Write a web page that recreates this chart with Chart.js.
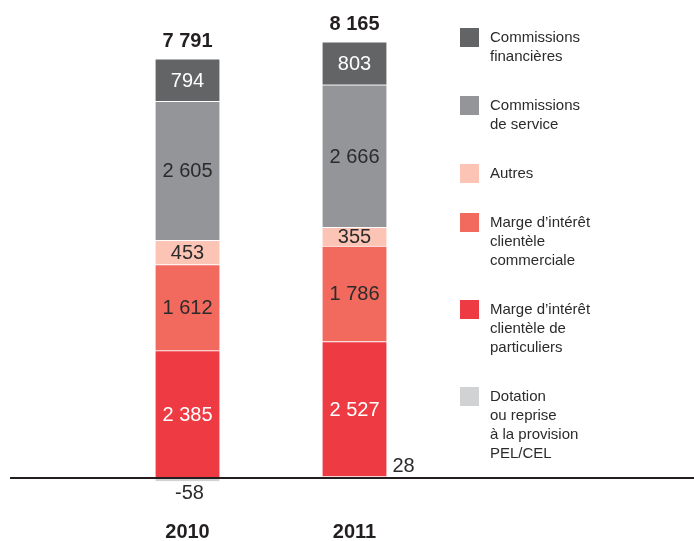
<!DOCTYPE html>
<html>
<head>
<meta charset="utf-8">
<script src="https://cdn.jsdelivr.net/npm/chart.js@4.4.0/dist/chart.umd.min.js"></script>
<style>
  html, body { margin: 0; padding: 0; background: #fff; }
</style>
</head>
<body>
<canvas id="chart" width="694" height="541"></canvas>
<script>
// data, stacked bottom-up
const years = ["2010", "2011"];
const pelCel = [-58, 28];
const margeParticuliers = [2385, 2527];
const margeCommerciale = [1612, 1786];
const autres = [453, 355];
const commissionsService = [2605, 2666];
const commissionsFinancieres = [794, 803];

const FONT = "'Liberation Sans', Arial, sans-serif";
const TEXT = "#2b2b2b";

function fmt(v) {
  const s = String(Math.abs(v)).replace(/\B(?=(\d{3})+(?!\d))/g, " ");
  return (v < 0 ? "-" : "") + s;
}

const datasets = [
  { label: ["Dotation", "ou reprise", "à la provision", "PEL/CEL"], data: pelCel, backgroundColor: "#d1d2d4", labelColor: TEXT, pel: true },
  { label: ["Marge d’intérêt", "clientèle de", "particuliers"], data: margeParticuliers, backgroundColor: "#ee3a43", labelColor: "#ffffff" },
  { label: ["Marge d’intérêt", "clientèle", "commerciale"], data: margeCommerciale, backgroundColor: "#f26a5e", labelColor: TEXT },
  { label: ["Autres"], data: autres, backgroundColor: "#fcc4b4", labelColor: TEXT },
  { label: ["Commissions", "de service"], data: commissionsService, backgroundColor: "#939598", labelColor: TEXT },
  { label: ["Commissions", "financières"], data: commissionsFinancieres, backgroundColor: "#636466", labelColor: "#ffffff" },
].map(d => Object.assign(d, {
  borderColor: "#ffffff",
  borderWidth: { top: 1, left: 0, right: 0, bottom: 0 },
  borderSkipped: false,
  barThickness: 64,
}));

const valueLabels = {
  id: "valueLabels",
  afterDatasetsDraw(chart) {
    const ctx = chart.ctx;
    const zeroY = chart.scales.y.getPixelForValue(0);
    ctx.save();
    ctx.font = "20px " + FONT;
    chart.data.datasets.forEach((ds, i) => {
      const meta = chart.getDatasetMeta(i);
      meta.data.forEach((bar, j) => {
        const v = ds.data[j];
        if (ds.pel) {
          ctx.fillStyle = TEXT;
          ctx.textBaseline = "middle";
          if (v < 0) {
            ctx.textAlign = "center";
            ctx.fillText(fmt(v), bar.x + 2, zeroY + 15);
          } else {
            ctx.textAlign = "left";
            ctx.fillText(fmt(v), bar.x + bar.width / 2 + 6, zeroY - 12);
          }
          return;
        }
        ctx.fillStyle = ds.labelColor;
        ctx.textAlign = "center";
        ctx.textBaseline = "middle";
        ctx.fillText(fmt(v), bar.x, (bar.y + bar.base) / 2 + 1);
      });
    });

    // zero line
    ctx.strokeStyle = "#231f20";
    ctx.lineWidth = 2;
    ctx.beginPath();
    ctx.moveTo(10, zeroY);
    ctx.lineTo(chart.width, zeroY);
    ctx.stroke();

    // totals on top
    ctx.font = "bold 20px " + FONT;
    ctx.fillStyle = "#231f20";
    ctx.textAlign = "center";
    ctx.textBaseline = "middle";
    chart.data.labels.forEach((lbl, j) => {
      let total = 0, pos = 0;
      chart.data.datasets.forEach(ds => {
        total += ds.data[j];
        if (ds.data[j] > 0) pos += ds.data[j];
      });
      const x = chart.getDatasetMeta(0).data[j].x;
      const top = chart.scales.y.getPixelForValue(pos);
      ctx.fillText(fmt(total), x, top - 17);
    });
    ctx.restore();
  }
};

const sideLegend = {
  id: "sideLegend",
  afterDraw(chart) {
    const ctx = chart.ctx;
    ctx.save();
    ctx.font = "15px " + FONT;
    ctx.textAlign = "left";
    ctx.textBaseline = "middle";
    let y = 28;
    chart.data.datasets.slice().reverse().forEach(ds => {
      ctx.fillStyle = ds.backgroundColor;
      ctx.fillRect(460, y, 19, 19);
      ctx.fillStyle = TEXT;
      ds.label.forEach((line, k) => {
        ctx.fillText(line, 490, y + 10 + k * 19);
      });
      y += ds.label.length * 19 + 30;
    });
    ctx.restore();
  }
};

new Chart(document.getElementById("chart"), {
  type: "bar",
  data: { labels: years, datasets: datasets },
  options: {
    responsive: false,
    animation: false,
    layout: { padding: { left: 104, right: 256, top: 8, bottom: -15 } },
    plugins: { legend: { display: false }, tooltip: { enabled: false } },
    scales: {
      x: {
        stacked: true,
        grid: { display: false, drawTicks: false },
        border: { display: false },
        ticks: { color: "#231f20", padding: 14, font: { family: FONT, size: 20, weight: "bold", lineHeight: 1 } }
      },
      y: {
        stacked: true,
        display: false,
        min: -560,
        max: 8800
      }
    }
  },
  plugins: [valueLabels, sideLegend]
});
</script>
</body>
</html>
